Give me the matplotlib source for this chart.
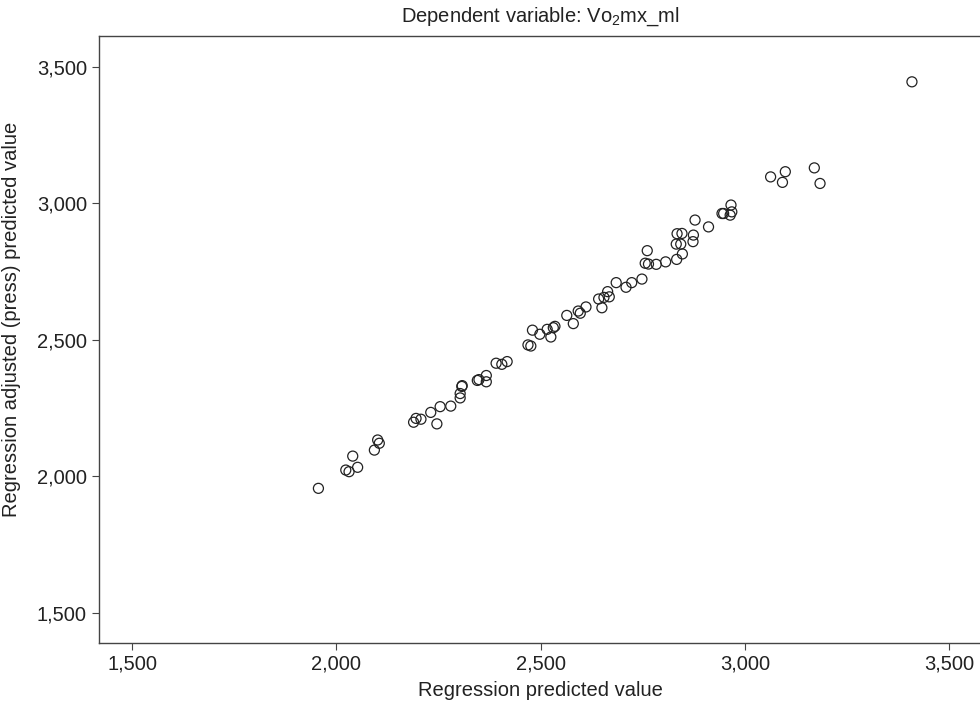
import matplotlib
matplotlib.use("Agg")
import matplotlib.pyplot as plt
from matplotlib.ticker import FuncFormatter, MultipleLocator

# regression predicted value vs adjusted (press) predicted value
predicted = [
    1956, 2023, 2031, 2040, 2052, 2093, 2101, 2105, 2189, 2195,
    2207, 2231, 2246, 2254, 2280, 2303, 2303, 2307, 2308, 2345,
    2349, 2367, 2367, 2391, 2405, 2418, 2469, 2476, 2480, 2498,
    2516, 2525, 2531, 2535, 2564, 2580, 2592, 2597, 2611, 2642,
    2650, 2655, 2664, 2668, 2685, 2709, 2723, 2748, 2756, 2764,
    2761, 2783, 2806, 2833, 2847, 2832, 2843, 2873, 2874, 2846,
    2834, 2878, 2911, 2944, 2948, 2966, 2968, 2964, 3063, 3092,
    3099, 3170, 3184, 3409,
]
adjusted = [
    1956, 2023, 2017, 2074, 2033, 2096, 2133, 2121, 2198, 2212,
    2209, 2234, 2192, 2255, 2257, 2287, 2303, 2329, 2332, 2351,
    2354, 2346, 2369, 2414, 2410, 2420, 2481, 2477, 2535, 2520,
    2538, 2510, 2544, 2549, 2589, 2559, 2605, 2597, 2620, 2649,
    2617, 2655, 2676, 2657, 2709, 2692, 2709, 2722, 2780, 2777,
    2826, 2776, 2785, 2794, 2814, 2850, 2850, 2859, 2883, 2889,
    2888, 2938, 2913, 2962, 2962, 2993, 2968, 2956, 3096, 3076,
    3115, 3129, 3072, 3444,
]

plt.rcParams["font.family"] = ["Liberation Sans", "DejaVu Sans"]
plt.rcParams["mathtext.fontset"] = "custom"
plt.rcParams["mathtext.rm"] = "Liberation Sans"
plt.rcParams["text.color"] = "#222222"

ink = "#222222"
fig = plt.figure(figsize=(9.8, 7.1), dpi=100)
ax = fig.add_axes([0.1015, 0.0944, 0.8995, 0.855])

ax.scatter(predicted, adjusted, s=52, facecolors="none", edgecolors=ink,
           linewidths=0.9, zorder=3)

ax.set_xlim(1420, 3578)
ax.set_ylim(1390, 3612)
ax.xaxis.set_major_locator(MultipleLocator(500))
ax.yaxis.set_major_locator(MultipleLocator(500))
fmt = FuncFormatter(lambda v, pos: f"{v:,.0f}")
ax.xaxis.set_major_formatter(fmt)
ax.yaxis.set_major_formatter(fmt)

for side in ["left", "bottom", "top", "right"]:
    ax.spines[side].set_color("#444444")
    ax.spines[side].set_linewidth(1.0)

ax.tick_params(axis="both", direction="out", length=5, width=0.8,
               color="#444444", labelsize=14.5, labelcolor=ink)
ax.tick_params(axis="x", pad=3)
ax.tick_params(axis="y", pad=4)

ax.set_title(r"Dependent variable: Vo$_{\mathregular{2}}$mx_ml",
             fontsize=14.5, color=ink, pad=10)
ax.set_xlabel("Regression predicted value", fontsize=14.5, color=ink,
              labelpad=6)
ax.set_ylabel("Regression adjusted (press) predicted value", fontsize=14.5,
              color=ink)
ax.yaxis.set_label_coords(-0.089, 0.533)

fig.savefig("out.png", dpi=100)
